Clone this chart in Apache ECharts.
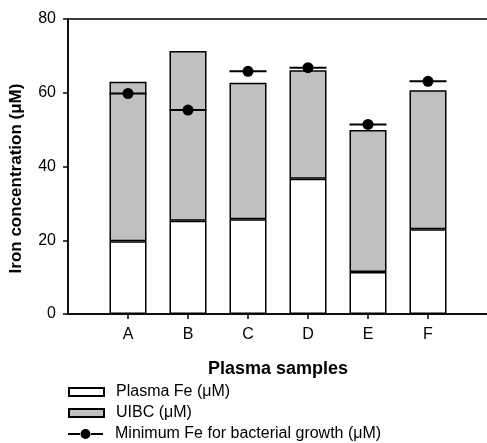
<!DOCTYPE html>
<html>
<head>
<meta charset="utf-8">
<script src="https://cdn.jsdelivr.net/npm/echarts@6/dist/echarts.min.js"></script>
<style>
html,body{margin:0;padding:0;background:#fff;overflow:hidden;}
#chart{width:487px;height:443px;}
</style>
</head>
<body>
<div id="chart"></div>
<script>
var categories = ['A', 'B', 'C', 'D', 'E', 'F'];
var plasmaFe = [19.7, 25.3, 25.7, 36.7, 11.4, 23.0];
var uibc = [43.3, 46.0, 37.0, 29.4, 38.5, 37.7];
var minFe = [59.8, 55.3, 65.8, 66.8, 51.4, 63.1];
var yTicks = [0, 20, 40, 60, 80];

var FONT = '"Liberation Sans", Arial, sans-serif';
var axisCats = [''].concat(categories).concat(['']);
function pad(arr) { return [null].concat(arr).concat([null]); }
var minFeData = minFe.map(function (v, i) { return [i + 1, v]; });
var BAR_W = 37;

var lineIcon = 'path://M0,4 L12,4 L12,6 L0,6 Z M23,4 L35,4 L35,6 L23,6 Z M12.5,5 A5,5 0 1,0 22.5,5 A5,5 0 1,0 12.5,5 Z';
var legText = { fontFamily: FONT, fontSize: 16, color: '#000', padding: [0, 0, 0, 7] };

var chart = echarts.init(document.getElementById('chart'));
chart.setOption({
  animation: false,
  backgroundColor: '#fff',
  grid: { left: 68, top: 19, width: 420, bottom: 129, show: true, borderColor: '#000', borderWidth: 1.5, backgroundColor: 'transparent', outerBoundsMode: 'none', containLabel: false },
  legend: [
    { data: [{ name: 'Plasma Fe (\u03bcM)', icon: 'rect' }], left: 68, top: 384, padding: 0, itemWidth: 35, itemHeight: 8, textStyle: legText, selectedMode: false },
    { data: [{ name: 'UIBC (\u03bcM)', icon: 'rect' }], left: 68, top: 405, padding: 0, itemWidth: 35, itemHeight: 8, textStyle: legText, selectedMode: false },
    { data: [{ name: 'Minimum Fe for bacterial growth (\u03bcM)', icon: lineIcon }], left: 68, top: 426, padding: 0, itemWidth: 35, itemHeight: 10, textStyle: legText, selectedMode: false }
  ],
  xAxis: {
    type: 'category',
    data: axisCats,
    boundaryGap: false,
    name: 'Plasma samples',
    nameLocation: 'middle',
    nameGap: 46,
    nameTextStyle: { fontFamily: FONT, fontSize: 18, fontWeight: 'bold', color: '#000' },
    axisLine: { lineStyle: { color: '#000', width: 1.5 } },
    axisTick: { show: true, length: 5, lineStyle: { color: '#000', width: 1.5 }, interval: function (i) { return i > 0 && i < axisCats.length - 1; } },
    axisLabel: { fontFamily: FONT, fontSize: 16, color: '#000', margin: 13, interval: 0 },
    splitLine: { show: false }
  },
  yAxis: {
    type: 'value',
    min: yTicks[0],
    max: yTicks[yTicks.length - 1],
    interval: 20,
    name: 'Iron concentration (\u03bcM)',
    nameLocation: 'middle',
    nameGap: 43,
    nameTextStyle: { fontFamily: FONT, fontSize: 17, fontWeight: 'bold', color: '#000', padding: [0, 24, 0, 0] },
    axisLine: { show: true, lineStyle: { color: '#000', width: 1.5 } },
    axisTick: { show: true, length: 5, lineStyle: { color: '#000', width: 1.5 } },
    axisLabel: { fontFamily: FONT, fontSize: 16, color: '#000', margin: 12 },
    splitLine: { show: false }
  },
  series: [
    {
      name: 'Plasma Fe (\u03bcM)', type: 'bar', stack: 'total', barWidth: BAR_W,
      data: pad(plasmaFe),
      itemStyle: { color: '#ffffff', borderColor: '#000', borderWidth: 1.5 }
    },
    {
      name: 'UIBC (\u03bcM)', type: 'bar', stack: 'total', barWidth: BAR_W,
      data: pad(uibc),
      itemStyle: { color: '#c0c0c0', borderColor: '#000', borderWidth: 1.5 }
    },
    {
      name: 'Minimum Fe for bacterial growth (\u03bcM)', type: 'custom',
      data: minFeData,
      itemStyle: { color: '#000' },
      z: 5,
      renderItem: function (params, api) {
        var p = api.coord([api.value(0), api.value(1)]);
        return {
          type: 'group',
          children: [
            { type: 'line', shape: { x1: p[0] - BAR_W / 2, y1: p[1], x2: p[0] + BAR_W / 2, y2: p[1] }, style: { stroke: '#000', lineWidth: 2 } },
            { type: 'circle', shape: { cx: p[0], cy: p[1], r: 5.5 }, style: { fill: '#000' } }
          ]
        };
      }
    }
  ]
});
</script>
</body>
</html>
